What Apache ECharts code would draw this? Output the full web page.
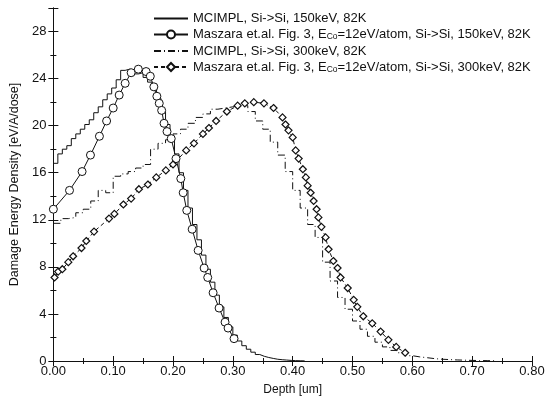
<!DOCTYPE html>
<html>
<head>
<meta charset="utf-8">
<script src="https://cdn.jsdelivr.net/npm/echarts@6/dist/echarts.min.js"></script>
<style>
html, body { margin: 0; padding: 0; background: #fff; }
#char { width: 548px; height: 404px; }
</style>
</head>
<body>
<div id="char"></div>
<script>
// series names
var names = [
    'MCIMPL, Si->Si, 150keV, 82K',
    'Maszara et.al. Fig. 3, Eco=12eV/atom, Si->Si, 150keV, 82K',
    'MCIMPL, Si->Si, 300keV, 82K',
    'Maszara et.al. Fig. 3, Eco=12eV/atom, Si->Si, 300keV, 82K'
];

// MCIMPL 150keV histogram, bin start depth [um] and value
var mc150X = [0.0000, 0.0075, 0.0150, 0.0225, 0.0300, 0.0375, 0.0450, 0.0525, 0.0600, 0.0675,
    0.0750, 0.0825, 0.0900, 0.0975, 0.1050, 0.1125, 0.1200, 0.1275, 0.1350, 0.1425,
    0.1500, 0.1575, 0.1650, 0.1725, 0.1800, 0.1875, 0.1950, 0.2025, 0.2100, 0.2175,
    0.2250, 0.2325, 0.2400, 0.2475, 0.2550, 0.2625, 0.2700, 0.2775, 0.2850, 0.2925,
    0.3000, 0.3075, 0.3150, 0.3225, 0.3300, 0.3375, 0.3450, 0.3525, 0.3600, 0.3675,
    0.3750, 0.3825, 0.3900, 0.3975, 0.4050, 0.4125, 0.4200];
var mc150Y = [16.8, 17.6, 18.0, 18.3, 18.9, 19.3, 19.7, 20.1, 20.5, 21.1,
    21.6, 22.2, 22.7, 23.2, 23.9, 24.7, 24.8, 24.7, 24.4, 24.5,
    24.1, 23.7, 23.1, 22.3, 21.2, 20.1, 18.9, 17.6, 16.0, 14.5,
    13.0, 11.6, 10.3, 9.0, 7.8, 6.7, 5.6, 4.6, 3.7, 2.9,
    2.2, 1.7, 1.3, 1.0, 0.75, 0.55, 0.4, 0.3, 0.22, 0.15,
    0.11, 0.08, 0.05, 0.03, 0.02, 0.01, 0.0];

// Maszara 150keV points
var mz150X = [0.000, 0.027, 0.048, 0.062, 0.077, 0.089, 0.100, 0.110, 0.120, 0.130,
    0.142, 0.155, 0.162, 0.168, 0.173, 0.177, 0.181, 0.185, 0.190, 0.197,
    0.205, 0.213, 0.217, 0.223, 0.232, 0.242, 0.252, 0.258, 0.267, 0.277,
    0.287, 0.292, 0.302];
var mz150Y = [12.9, 14.5, 16.1, 17.5, 19.1, 20.4, 21.5, 22.6, 23.6, 24.5,
    24.8, 24.6, 24.2, 23.3, 22.5, 21.9, 21.3, 20.2, 19.5, 18.9,
    17.2, 15.5, 14.3, 12.8, 11.2, 9.4, 7.9, 7.1, 5.8, 4.5,
    3.3, 2.8, 1.9];

// MCIMPL 300keV histogram
var mc300X = [0.0000, 0.0125, 0.0250, 0.0375, 0.0500, 0.0625, 0.0750, 0.0875, 0.1000, 0.1125,
    0.1250, 0.1375, 0.1500, 0.1625, 0.1750, 0.1875, 0.2000, 0.2125, 0.2250, 0.2375,
    0.2500, 0.2625, 0.2750, 0.2875, 0.3000, 0.3125, 0.3250, 0.3375, 0.3500, 0.3625,
    0.3750, 0.3875, 0.4000, 0.4125, 0.4250, 0.4375, 0.4500, 0.4625, 0.4750, 0.4875,
    0.5000, 0.5125, 0.5250, 0.5375, 0.5500, 0.5625, 0.5750, 0.5875, 0.6000, 0.6125,
    0.6250, 0.6375, 0.6500, 0.6625, 0.6750, 0.6875, 0.7000, 0.7125, 0.7250, 0.7375];
var mc300Y = [11.7, 12.1, 12.2, 12.6, 12.9, 13.6, 14.5, 14.3, 15.7, 15.9,
    16.1, 16.4, 16.7, 18.0, 18.5, 18.8, 19.3, 19.7, 20.2, 20.7,
    21.0, 21.4, 21.5, 21.6, 21.7, 21.7, 21.2, 20.4, 19.7, 18.6,
    17.5, 16.1, 14.5, 13.0, 11.6, 10.5, 8.4, 6.8, 5.4, 4.4,
    3.4, 2.7, 2.1, 1.6, 1.2, 0.9, 0.7, 0.45, 0.35, 0.28,
    0.2, 0.15, 0.12, 0.09, 0.07, 0.05, 0.04, 0.03, 0.02, 0.0];

// Maszara 300keV points
var mz300X = [0.002, 0.008, 0.015, 0.025, 0.033, 0.047, 0.055, 0.068, 0.093, 0.102,
    0.117, 0.130, 0.143, 0.158, 0.172, 0.188, 0.200, 0.222, 0.235, 0.250,
    0.260, 0.272, 0.290, 0.308, 0.320, 0.335, 0.352, 0.368, 0.383, 0.388,
    0.393, 0.400, 0.405, 0.410, 0.417, 0.422, 0.425, 0.430, 0.435, 0.440,
    0.443, 0.448, 0.455, 0.460, 0.468, 0.475, 0.480, 0.492, 0.502, 0.508,
    0.518, 0.533, 0.547, 0.560, 0.573, 0.588];
var mz300Y = [7.1, 7.6, 7.8, 8.4, 8.9, 9.6, 10.2, 11.0, 12.1, 12.5,
    13.3, 13.8, 14.6, 15.0, 15.6, 16.2, 16.7, 17.9, 18.5, 19.3,
    19.8, 20.4, 21.2, 21.7, 21.9, 22.0, 21.9, 21.5, 20.7, 20.1,
    19.6, 19.0, 17.9, 17.2, 16.3, 15.6, 14.9, 14.3, 13.6, 12.9,
    12.2, 11.4, 10.5, 9.5, 8.5, 7.9, 7.1, 6.2, 5.2, 4.6,
    3.8, 3.2, 2.5, 1.8, 1.2, 0.7];

function pairs(xs, ys) {
    var out = [];
    for (var i = 0; i < xs.length; i++) {
        out.push([xs[i], ys[i]]);
    }
    return out;
}

var ink = '#111';
var font = 'Liberation Sans';

var dom = document.getElementById("char");
var myChart = echarts.init(dom, null, {renderer: 'canvas'});

var tickStyle = {
    show: true,
    inside: true,
    length: 5,
    lineStyle: {color: ink, width: 1}
};
var minorStyle = {
    show: true,
    splitNumber: 2,
    length: 3,
    lineStyle: {color: ink, width: 1}
};

option = {
    animation: false,
    backgroundColor: '#fff',
    grid: {left: 52, right: 16, top: 8, bottom: 43},
    legend: {
        orient: 'vertical',
        left: 153,
        top: 12,
        padding: 0,
        itemWidth: 34,
        itemHeight: 10,
        itemGap: 3,
        data: [
            // histogram rows: line only, hide the marker
            {name: names[0], itemStyle: {opacity: 0}},
            {name: names[1]},
            {name: names[2], itemStyle: {opacity: 0}},
            {name: names[3]}
        ],
        formatter: function (name) {
            if (name.indexOf('Eco') >= 0) {
                var p = name.split('Eco');
                return '{n|' + p[0] + 'E}{s|Co}{n|' + p[1] + '}';
            }
            return '{n|' + name + '}';
        },
        textStyle: {
            color: ink,
            fontFamily: font,
            fontSize: 13,
            rich: {
                n: {fontSize: 13, fontFamily: font, color: ink},
                s: {fontSize: 8.5, fontFamily: font, color: ink, padding: [5, 0, 0, 0]}
            }
        }
    },
    xAxis: [{
        type: 'value',
        min: 0,
        max: 0.8,
        interval: 0.1,
        name: 'Depth [um]',
        nameLocation: 'middle',
        nameGap: 23,
        nameTextStyle: {color: ink, fontFamily: font, fontSize: 12},
        axisLine: {show: true, lineStyle: {color: ink, width: 1}},
        axisTick: tickStyle,
        minorTick: minorStyle,
        splitLine: {show: false},
        axisLabel: {
            color: ink, fontFamily: font, fontSize: 13, margin: 4,
            formatter: function (v) { return v.toFixed(2); }
        }
    }, {
        type: 'value',
        position: 'top',
        min: 0,
        max: 0.8,
        interval: 0.1,
        axisLine: {show: true, lineStyle: {color: ink, width: 1}},
        axisTick: tickStyle,
        minorTick: minorStyle,
        splitLine: {show: false},
        axisLabel: {show: false}
    }],
    yAxis: [{
        type: 'value',
        min: 0,
        max: 30,
        interval: 4,
        name: 'Damage Energy Density [eV/A/dose]',
        nameLocation: 'middle',
        nameGap: 31,
        nameTextStyle: {color: ink, fontFamily: font, fontSize: 12.5},
        axisLine: {show: true, lineStyle: {color: ink, width: 1}},
        axisTick: tickStyle,
        minorTick: minorStyle,
        splitLine: {show: false},
        axisLabel: {
            color: ink, fontFamily: font, fontSize: 13, margin: 7,
            formatter: function (v) { return v > 28 ? '' : String(v); }
        }
    }, {
        type: 'value',
        position: 'right',
        min: 0,
        max: 30,
        interval: 4,
        axisLine: {show: true, lineStyle: {color: ink, width: 1}},
        axisTick: tickStyle,
        minorTick: minorStyle,
        splitLine: {show: false},
        axisLabel: {show: false}
    }],
    series: [
        {
            name: names[0],
            type: 'line',
            step: 'end',
            symbol: 'none',
            data: pairs(mc150X, mc150Y),
            lineStyle: {color: ink, width: 1},
            itemStyle: {color: ink}
        },
        {
            name: names[1],
            type: 'line',
            symbol: 'circle',
            symbolSize: 8,
            data: pairs(mz150X, mz150Y),
            lineStyle: {color: ink, width: 1},
            itemStyle: {color: '#fff', borderColor: ink, borderWidth: 1}
        },
        {
            name: names[2],
            type: 'line',
            step: 'end',
            symbol: 'none',
            data: pairs(mc300X, mc300Y),
            lineStyle: {color: ink, width: 1, type: [7, 3, 1, 3]},
            itemStyle: {color: ink}
        },
        {
            name: names[3],
            type: 'line',
            symbol: 'diamond',
            symbolSize: 7,
            data: pairs(mz300X, mz300Y),
            lineStyle: {color: ink, width: 1, type: [4, 3]},
            itemStyle: {color: '#fff', borderColor: ink, borderWidth: 1.2}
        }
    ]
};
myChart.setOption(option);
</script>
</body>
</html>
